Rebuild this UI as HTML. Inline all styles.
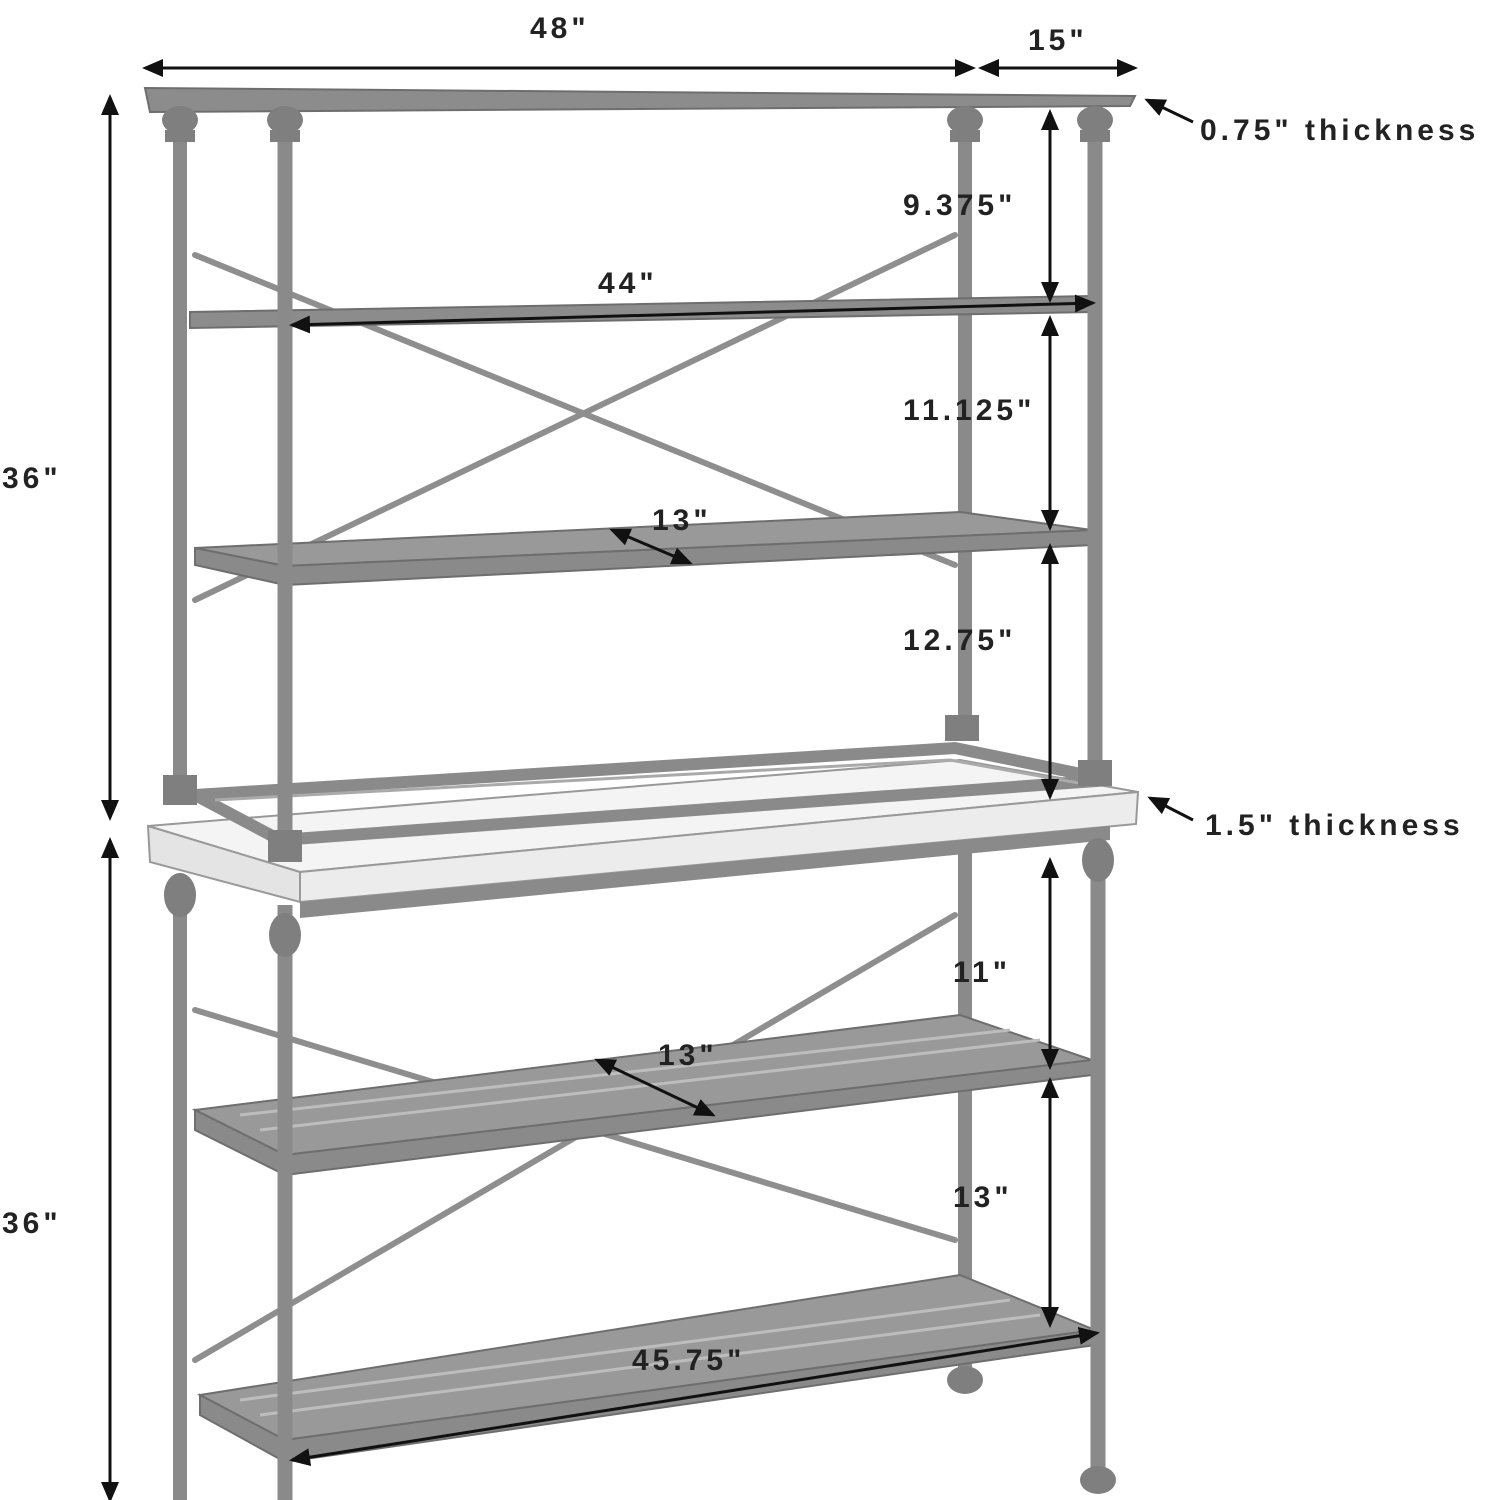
<!DOCTYPE html>
<html><head><meta charset="utf-8"><style>
html,body{margin:0;padding:0;background:#fff;}
svg{display:block;}
text{font-family:"Liberation Sans",sans-serif;font-weight:bold;font-size:30px;letter-spacing:4px;fill:#222;}
</style></head><body>
<svg width="1500" height="1500" viewBox="0 0 1500 1500" xmlns="http://www.w3.org/2000/svg">
<defs>
<marker id="a" markerWidth="7" markerHeight="6" refX="6" refY="3" orient="auto-start-reverse" markerUnits="strokeWidth">
<path d="M0,0 L7,3 L0,6 Z" fill="#111"/></marker>
</defs>
<g stroke="#7d7d7d" fill="none" stroke-linecap="round">
<g stroke-width="6" stroke="#8e8e8e">
<line x1="195" y1="255" x2="955" y2="565"/>
<line x1="195" y1="600" x2="955" y2="235"/>
<line x1="195" y1="1010" x2="955" y2="1240"/>
<line x1="195" y1="1360" x2="955" y2="915"/>
</g>
<g stroke-width="14" stroke="#8a8a8a">
<line x1="180" y1="110" x2="180" y2="790"/>
<line x1="965" y1="110" x2="965" y2="720"/>
<line x1="180" y1="880" x2="180" y2="1500"/>
<line x1="965" y1="850" x2="965" y2="1375"/>
</g>
</g>
<polygon points="145,88 1135,96 1130,106 150,112" fill="#8c8c8c" stroke="#6e6e6e" stroke-width="2"/>
<polygon points="190,312 1092,296 1092,312 190,328" fill="#8c8c8c" stroke="#6e6e6e" stroke-width="2"/>
<polygon points="195,548 960,512 1092,530 285,566" fill="#999" stroke="#6e6e6e" stroke-width="2"/>
<polygon points="195,548 285,566 1092,530 1092,545 285,585 195,565" fill="#8a8a8a" stroke="#6e6e6e" stroke-width="2"/>
<polygon points="148,826 960,760 1138,792 300,872" fill="#f4f4f4" stroke="#999" stroke-width="2"/>
<polygon points="300,872 1138,792 1136,824 300,902" fill="#ececec" stroke="#999" stroke-width="2"/>
<polygon points="148,826 300,872 300,902 150,862" fill="#e4e4e4" stroke="#999" stroke-width="2"/>
<polygon points="300,902 1110,826 1110,840 300,918" fill="#8a8a8a"/>
<g stroke="#8a8a8a" stroke-width="12" fill="none">
<polyline points="195,795 955,748 1110,780 280,840 195,795"/>
</g>
<g stroke="#aaa" stroke-width="3" fill="none">
<polyline points="215,800 950,760 1090,785"/>
</g>
<polygon points="195,1110 960,1015 1092,1060 285,1155" fill="#999" stroke="#6e6e6e" stroke-width="2"/>
<polygon points="195,1110 285,1155 1092,1060 1092,1075 285,1175 195,1130" fill="#8a8a8a" stroke="#6e6e6e" stroke-width="2"/>
<polygon points="200,1395 960,1275 1095,1330 285,1440" fill="#999" stroke="#6e6e6e" stroke-width="2"/>
<polygon points="200,1395 285,1440 1095,1330 1095,1345 285,1462 200,1415" fill="#8a8a8a" stroke="#6e6e6e" stroke-width="2"/>
<g stroke="#bdbdbd" stroke-width="3">
<line x1="260" y1="1130" x2="1040" y2="1040"/><line x1="240" y1="1115" x2="1010" y2="1030"/>
<line x1="260" y1="1415" x2="1040" y2="1315"/><line x1="240" y1="1400" x2="1010" y2="1300"/>
</g>
<g stroke="#8a8a8a" stroke-width="15">
<line x1="285" y1="110" x2="285" y2="855"/>
<line x1="1095" y1="110" x2="1095" y2="780"/>
<line x1="285" y1="905" x2="285" y2="1500"/>
<line x1="1098" y1="830" x2="1098" y2="1480"/>
</g>
<g fill="#7f7f7f">
<rect x="268" y="830" width="34" height="32"/><rect x="1078" y="760" width="34" height="26"/>
<rect x="163" y="775" width="34" height="30"/><rect x="945" y="715" width="34" height="26"/>
<ellipse cx="285" cy="120" rx="18" ry="14"/><ellipse cx="180" cy="120" rx="18" ry="14"/>
<ellipse cx="965" cy="120" rx="18" ry="14"/><ellipse cx="1095" cy="120" rx="18" ry="14"/>
<ellipse cx="285" cy="935" rx="16" ry="22"/><ellipse cx="1098" cy="860" rx="16" ry="22"/>
<ellipse cx="180" cy="895" rx="16" ry="22"/>
<ellipse cx="1098" cy="1480" rx="18" ry="14"/><ellipse cx="965" cy="1380" rx="18" ry="14"/>
<rect x="270" y="130" width="30" height="12"/><rect x="165" y="130" width="30" height="12"/>
<rect x="950" y="130" width="30" height="12"/><rect x="1080" y="130" width="30" height="12"/>
</g>
<g stroke="#111" stroke-width="3" fill="none" marker-start="url(#a)" marker-end="url(#a)">
<line x1="145" y1="68" x2="973" y2="68"/>
<line x1="981" y1="68" x2="1135" y2="68"/>
<line x1="110" y1="97" x2="110" y2="818"/>
<line x1="110" y1="840" x2="110" y2="1500"/>
<line x1="1050" y1="112" x2="1050" y2="300"/>
<line x1="292" y1="325" x2="1093" y2="303"/>
<line x1="1050" y1="318" x2="1050" y2="528"/>
<line x1="612" y1="530" x2="690" y2="563"/>
<line x1="1050" y1="546" x2="1050" y2="797"/>
<line x1="1050" y1="860" x2="1050" y2="1067"/>
<line x1="597" y1="1060" x2="713" y2="1115"/>
<line x1="1050" y1="1080" x2="1050" y2="1325"/>
<line x1="292" y1="1460" x2="1097" y2="1333"/>
</g>
<g stroke="#111" stroke-width="3" fill="none" marker-end="url(#a)">
<line x1="1193" y1="122" x2="1147" y2="100"/>
<line x1="1193" y1="820" x2="1150" y2="798"/>
</g>
<text x="530" y="38">48"</text>
<text x="1028" y="50">15"</text>
<text x="1200" y="140">0.75" thickness</text>
<text x="2" y="488">36"</text>
<text x="2" y="1233">36"</text>
<text x="903" y="215">9.375"</text>
<text x="598" y="293">44"</text>
<text x="903" y="420">11.125"</text>
<text x="652" y="530">13"</text>
<text x="903" y="650">12.75"</text>
<text x="1205" y="835">1.5" thickness</text>
<text x="953" y="982">11"</text>
<text x="658" y="1065">13"</text>
<text x="953" y="1207">13"</text>
<text x="632" y="1370">45.75"</text>
</svg>
</body></html>
